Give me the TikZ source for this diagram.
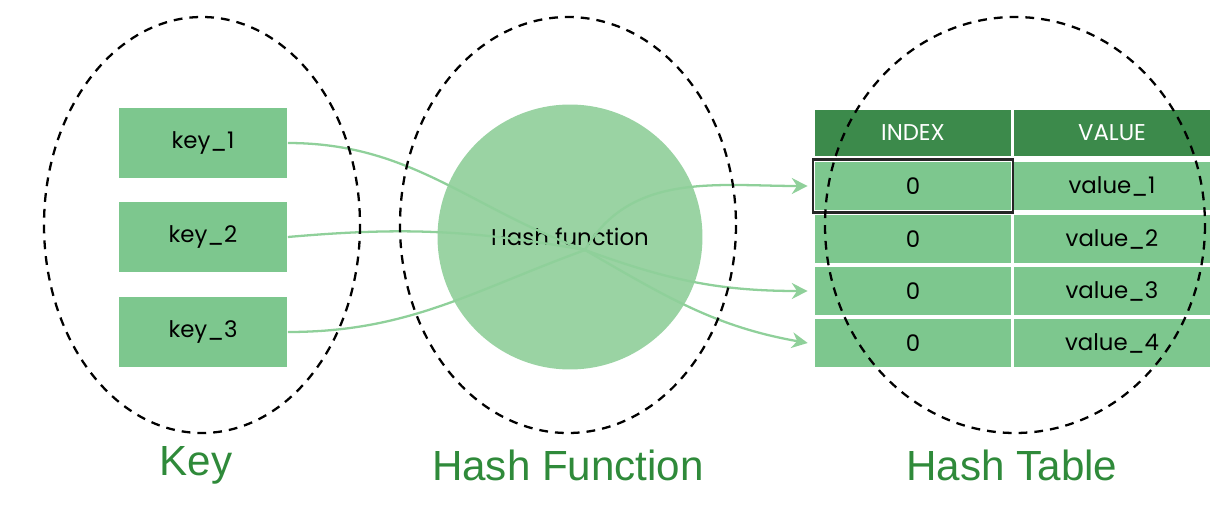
\documentclass[tikz,border=0pt]{standalone}
\usepackage{fontspec}
\setmainfont{Poppins}
\newfontfamily\capfont{Liberation Sans}
\usepackage{xcolor}
\usetikzlibrary{arrows.meta}
\definecolor{boxgreen}{HTML}{7DC78E}
\definecolor{circgreen}{HTML}{9AD3A3}
\definecolor{headgreen}{HTML}{3C8A4B}
\definecolor{linegreen}{HTML}{8FD09A}
\definecolor{capgreen}{HTML}{2F8A3A}
\tikzset{
  keybox/.style={fill=boxgreen, minimum width=3.38cm, minimum height=1.42cm, font=\fontsize{13}{13}\selectfont},
  cell/.style={fill=boxgreen, draw=white, line width=1.2pt, minimum width=3.96cm, minimum height=1.02cm, font=\fontsize{13}{13}\selectfont},
  head/.style={cell, fill=headgreen, text=white, minimum height=0.98cm},
  group/.style={draw, dashed, line width=1.3pt, dash pattern=on 5pt off 4pt},
  flow/.style={draw=linegreen, line width=1.3pt},
  caption/.style={text=capgreen, font=\capfont\fontsize{24}{24}\selectfont}
}
\begin{document}
\begin{tikzpicture}[x=0.02cm, y=-0.02cm]
\useasboundingbox (0,0) rectangle (1232,514);
% keys
\node[keybox] (k1) at (203,143) {key\_1};
\node[keybox] (k2) at (203,237) {key\_2};
\node[keybox] (k3) at (203,332) {key\_3};

% hash function
\node[circle, fill=circgreen, minimum size=5.3cm, font=\fontsize{13}{13}\selectfont] (hf) at (570,237) {Hash function};

% table
\node[head] (hi) at (913,133) {INDEX};
\node[head] (hv) at (1112,133) {VALUE};
\foreach \i/\y in {1/186,2/239,3/291,4/343} {
  \node[cell] (i\i) at (913,\y) {0};
  \node[cell] (v\i) at (1112,\y) {value\_\i};
}
\draw[line width=1.2pt, black!85] (i1.north west) rectangle (i1.south east);

% connectors
\coordinate (mid) at (585,250);
\draw[flow] (k1.east) to[out=0, in=160] (mid);
\draw[flow] (k2.east) to[out=5, in=170] (mid);
\draw[flow] (k3.east) to[out=0, in=200] (mid);
\draw[flow, -{Stealth[length=9pt,width=9pt]}] (mid) to[out=60, in=180] ([xshift=-3pt]i1.west);
\draw[flow, -{Stealth[length=9pt,width=9pt]}] (mid) to[out=-20, in=180] ([xshift=-3pt]i3.west);
\draw[flow, -{Stealth[length=9pt,width=9pt]}] (mid) to[out=-30, in=170] ([xshift=-3pt]i4.west);

% dashed groups
\draw[group] (202,225) ellipse [x radius=158, y radius=208];
\draw[group] (568,225) ellipse [x radius=168, y radius=208];
\draw[group] (1015,225) ellipse [x radius=190, y radius=208];

% captions
\node[caption] (ck) at (196,465) {Key};
\node[caption] (cf) at (568,465) {Hash Function};
\node[caption] (ct) at (1012,465) {Hash Table};
\end{tikzpicture}
\end{document}
